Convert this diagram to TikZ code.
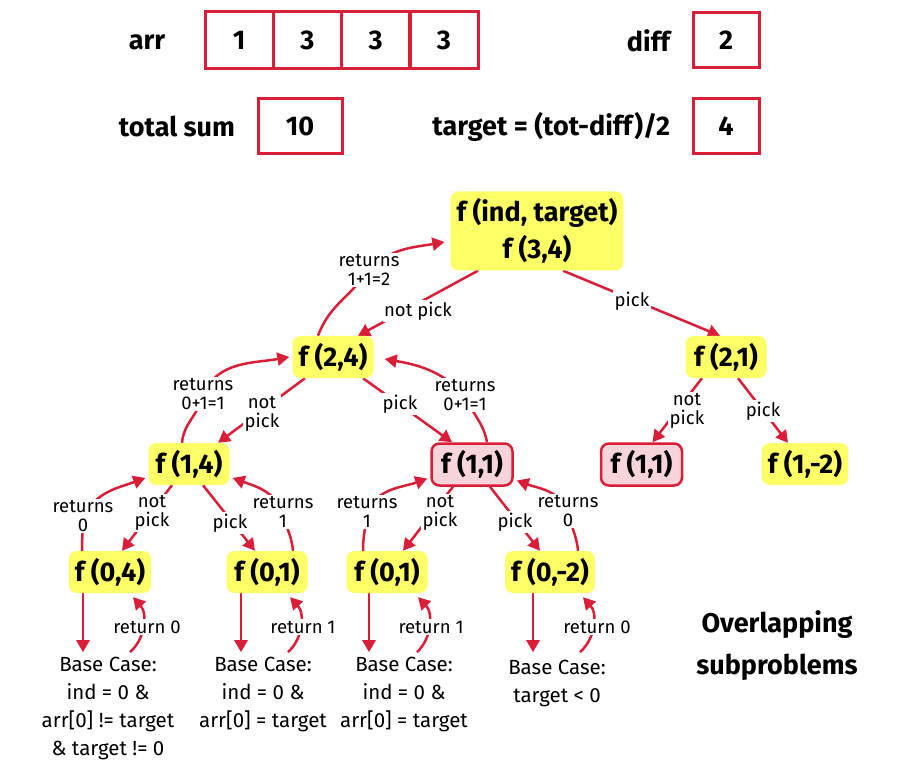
\documentclass[tikz,border=0pt]{standalone}
\usepackage{fontspec}
\setmainfont{Fira Sans}
\usetikzlibrary{arrows.meta,positioning,backgrounds}
\definecolor{crim}{RGB}{218,30,55}
\definecolor{hilite}{RGB}{255,255,102}
\definecolor{dupfill}{RGB}{247,212,218}
\newcommand\bigbf{\fontsize{27}{37}\selectfont\bfseries}
\newcommand\lblfont{\fontsize{18.5}{19.5}\selectfont}
\newcommand\basefont{\fontsize{20.5}{28}\selectfont}

\begin{document}
\begin{tikzpicture}[x=1pt,y=1pt,
    call/.style={fill=hilite,rounded corners=8pt,font=\bigbf,minimum width=81pt,
      minimum height=42pt,inner xsep=6pt,inner ysep=0pt},
    dup/.style={call,fill=dupfill,draw=crim,line width=2.5pt},
    cell/.style={draw=crim,line width=3pt,font=\bigbf,minimum width=68pt,minimum height=57pt},
    lbl/.style={font=\lblfont,fill=white,align=center,inner sep=1.5pt},
    basecase/.style={font=\basefont,align=center},
    edge/.style={crim,line width=2.5pt,-{Triangle[length=12pt,width=13pt]}}]
  \useasboundingbox (0,0) rectangle (915,-775);

  % input values
  \foreach \v [count=\i] in {1,3,3,3}
    \node[cell] (c\i) at (171+68.25*\i,-40.5) {\v};
  \node[font=\bigbf] (arr) at (147,-42) {arr};
  \node[cell,minimum width=66pt,minimum height=55pt] (diffbox) at (726,-40.5) {2};
  \node[font=\bigbf,left=18pt of diffbox] (diff) {diff};
  \node[cell,minimum width=84pt,minimum height=55pt] (totbox) at (300,-126.5) {10};
  \node[font=\bigbf,left=18pt of totbox] (tot) {total sum};
  \node[cell,minimum width=66pt,minimum height=55pt] (tgtbox) at (726,-126.5) {4};
  \node[font=\bigbf,left=18pt of tgtbox] (tgt) {target = (tot-diff)/2};

  % recursion tree
  \node[call,align=center,minimum width=170pt,minimum height=79pt] (root) at (537,-231)
    {f (ind, target)\\f (3,4)};
  \node[call] (f24) at (333,-357) {f (2,4)};
  \node[call] (f21) at (726,-357) {f (2,1)};
  \node[call] (f14) at (189,-464) {f (1,4)};
  \node[dup] (f11a) at (472,-464.5) {f (1,1)};
  \node[dup] (f11b) at (641.5,-464.5) {f (1,1)};
  \node[call] (f1m2) at (805,-464) {f (1,-2)};
  \node[call] (f04) at (110,-572) {f (0,4)};
  \node[call] (f01a) at (267,-572) {f (0,1)};
  \node[call] (f01b) at (387,-572) {f (0,1)};
  \node[call] (f0m2) at (550,-572) {f (0,-2)};

  % edge labels
  \node[lbl] (np1) at (418,-311) {not pick};
  \node[lbl] (p1) at (632,-301) {pick};
  \node[lbl] (np2) at (262,-414) {not\\pick};
  \node[lbl] (p2) at (400,-404) {pick};
  \node[lbl] (np3) at (687,-411) {not\\pick};
  \node[lbl] (p3) at (763,-411) {pick};
  \node[lbl] (np4) at (152,-513) {not\\pick};
  \node[lbl] (p4) at (230,-523) {pick};
  \node[lbl] (np5) at (440,-513) {not\\pick};
  \node[lbl] (p5) at (515,-522) {pick};
  \node[lbl] (r1) at (369,-270) {returns\\1+1=2};
  \node[lbl] (r2) at (203,-394) {returns\\0+1=1};
  \node[lbl] (r3) at (465,-395) {returns\\0+1=1};
  \node[lbl] (r4) at (83,-516) {returns\\0};
  \node[lbl] (r5) at (283,-512) {returns\\1};
  \node[lbl] (r6) at (367,-512) {returns\\1};
  \node[lbl] (r7) at (568,-511) {returns\\0};
  \node[lbl] (b1) at (147,-627) {return 0};
  \node[lbl] (b2) at (303,-627) {return 1};
  \node[lbl] (b3) at (431,-627) {return 1};
  \node[lbl] (b4) at (597,-627) {return 0};

  % base cases
  \node[basecase] (bc1) at (108,-708) {Base Case:\\ind = 0 \&\\arr[0] != target\\\& target != 0};
  \node[basecase] (bc2) at (263,-694) {Base Case:\\ind = 0 \&\\arr[0] = target};
  \node[basecase] (bc3) at (404,-694) {Base Case:\\ind = 0 \&\\arr[0] = target};
  \node[basecase] (bc4) at (557,-683) {Base Case:\\target < 0};

  \node[font=\fontsize{27}{42}\selectfont\bfseries,align=center] (note) at (777,-646)
    {Overlapping\\subproblems};

  \begin{pgfonlayer}{background}
    % calls
    \draw[edge] ([xshift=-59pt]root.south) -- ([xshift=25pt]f24.north);
    \draw[edge] ([xshift=26pt]root.south) -- ([xshift=-6pt]f21.north);
    \draw[edge] ([xshift=-28pt]f24.south) -- ([xshift=29pt]f14.north);
    \draw[edge] ([xshift=30pt]f24.south) -- ([xshift=-20pt]f11a.north);
    \draw[edge] ([xshift=-24pt]f21.south) -- ([xshift=11pt]f11b.north);
    \draw[edge] ([xshift=12pt]f21.south) -- ([xshift=-17pt]f1m2.north);
    \draw[edge] ([xshift=-17pt]f14.south) -- ([xshift=12pt]f04.north);
    \draw[edge] ([xshift=14pt]f14.south) -- ([xshift=-12pt]f01a.north);
    \draw[edge] ([xshift=-19pt]f11a.south) -- ([xshift=16pt]f01b.north);
    \draw[edge] ([xshift=18pt]f11a.south) -- ([xshift=-10pt]f0m2.north);
    % returns
    \draw[edge] ([xshift=-15pt]f24.north) to[out=70,in=235] (r1.center)
      to[out=45,in=190] ([xshift=-6pt,yshift=-11pt]root.west);
    \draw[edge] ([xshift=-7pt]f14.north) to[out=85,in=-100] (r2.center)
      to[out=65,in=190] ([xshift=-3pt]f24.west);
    \draw[edge] ([xshift=15pt]f11a.north) to[out=100,in=-70] (r3.center)
      to[out=135,in=-10] ([xshift=11pt,yshift=-2pt]f24.east);
    \draw[edge] ([xshift=-28pt]f04.north) to[out=90,in=-90] (r4.center)
      to[out=60,in=200] ([xshift=-3pt,yshift=-14pt]f14.west);
    \draw[edge] ([xshift=26pt]f01a.north) to[out=95,in=-80] (r5.center)
      to[out=115,in=-20] ([xshift=3pt,yshift=-14pt]f14.east);
    \draw[edge] ([xshift=-24pt]f01b.north) to[out=90,in=-95] (r6.center)
      to[out=65,in=200] ([xshift=-3pt,yshift=-14pt]f11a.west);
    \draw[edge] ([xshift=28pt]f0m2.north) to[out=95,in=-80] (r7.center)
      to[out=115,in=-20] ([xshift=3pt,yshift=-16pt]f11a.east);
    % base cases
    \foreach \f/\dx/\a/\b in {f04/-27/20/23,f01a/-26/21/23,f01b/-18/30/31,f0m2/-17/30/33} {
      \draw[edge] ([xshift=\dx pt]\f.south) -- ++(0,-59);
      \draw[edge] ([xshift=\a pt,yshift=-59pt]\f.south) to[bend right=45]
        ([xshift=\b pt,yshift=-4pt]\f.south);
    }
  \end{pgfonlayer}
\end{tikzpicture}
\end{document}
